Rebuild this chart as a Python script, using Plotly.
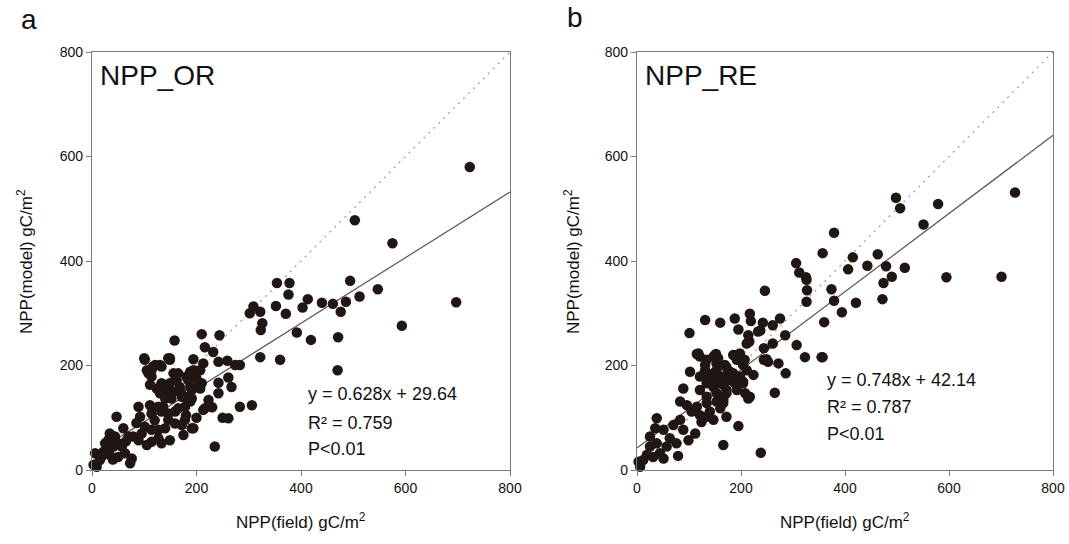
import plotly.graph_objects as go

# ---------------- data ----------------
a_x = [723, 503, 575, 378, 354, 494, 376, 413, 547, 512, 440, 461, 486, 403, 476, 371, 697, 392, 419, 471,
       593, 360, 470, 352, 309, 322, 302, 326, 323, 322, 210, 244, 158, 216, 232,
       194, 213, 242, 259, 274, 283, 149, 130, 117, 111,
       194, 207, 181, 165, 159, 149, 143, 133, 124, 111,
       261, 242, 267, 242, 223, 188, 191, 207, 283, 306, 216, 136, 111,
       100, 105, 121, 133, 146, 108, 114, 188,
       156, 162, 133, 143, 156, 168, 130, 140, 152, 172,
       184, 191, 203, 210, 178, 188, 213, 261,
       89, 92, 114, 127, 133, 146, 159, 165, 178,
       146, 159, 172, 178, 191, 140, 127, 114, 101,
       175, 149, 133, 127, 114, 105, 89, 79, 70,
       47, 34, 31, 44, 50, 57, 41, 25, 22, 34, 50, 63, 76, 73, 6, 15, 3, 9, 18,
       235, 194, 101, 114, 149, 60, 85, 95, 120, 65, 28, 40, 200, 230, 250, 180, 170, 200]
a_y = [580, 478, 434, 358, 358, 362, 336, 327, 346, 332, 320, 318, 322, 311, 303, 299, 321, 263, 249, 254,
       276, 211, 191, 314, 313, 303, 300, 281, 268, 216, 260, 258, 248, 235, 226,
       212, 204, 207, 209, 201, 201, 214, 201, 198, 191,
       191, 191, 179, 185, 172, 166, 159, 163, 156, 163,
       177, 167, 159, 147, 134, 159, 137, 156, 121, 124, 118, 121, 124,
       214, 191, 201, 198, 214, 185, 179, 188,
       185, 172, 166, 153, 150, 159, 147, 137, 137, 140,
       172, 153, 159, 166, 140, 131, 115, 99,
       121, 102, 108, 121, 112, 108, 112, 118, 121,
       96, 89, 86, 96, 80, 80, 77, 77, 83,
       67, 57, 51, 61, 54, 48, 57, 64, 64,
       102, 70, 57, 64, 51, 45, 45, 51, 35, 29, 25, 32, 22, 13, 32, 19, 10, 6, 25,
       45, 80, 211, 191, 211, 80, 90, 70, 95, 55, 40, 20, 100, 120, 100, 105, 150, 175]

b_x = [727, 498, 506, 579, 551, 379, 357, 415, 463, 406, 443, 479, 515, 490, 474, 374, 379, 421, 394, 472,
       595, 701, 360, 357,
       306, 312, 325, 327, 326, 246, 131, 160, 188, 217, 219, 242, 261, 275, 195, 237, 214, 216, 285, 261,
       244, 307, 323, 355, 244, 252, 272, 286, 198, 185, 192, 204, 211, 224,
       147, 153, 134, 121, 169, 176, 166, 147, 160, 134,
       217, 265, 166, 134,
       118, 150, 156, 191, 207,
       102, 131, 121, 147, 160, 179, 179, 198,
       134, 147, 166, 153, 172, 192, 204, 208, 121, 89,
       83, 96, 115, 134, 153, 166, 160, 140, 121, 105, 134, 147, 172, 124, 195,
       112, 89, 70, 83, 51, 63, 76, 99, 57, 38, 25, 44, 31, 19, 12, 3, 6, 51, 79,
       35, 25, 38, 166, 238,
       101, 233, 249, 211, 115, 152, 131, 153, 172, 185, 172, 188, 204, 166, 214, 326]
b_y = [531, 521, 501, 509, 470, 454, 415, 407, 413, 384, 391, 390, 387, 370, 358, 346, 324, 320, 302, 327,
       369, 370, 283, 216,
       396, 378, 369, 344, 322, 343, 287, 282, 290, 299, 285, 282, 277, 290, 269, 267, 258, 246, 258, 242,
       233, 239, 216, 216, 211, 207, 204, 185, 223, 220, 211, 201, 191, 182,
       217, 204, 211, 217, 201, 188, 179, 172, 166, 179,
       140, 148, 140, 140,
       223, 220, 214, 220, 211,
       188, 191, 179, 185, 175, 188, 172, 179,
       166, 159, 163, 147, 147, 153, 166, 147, 153, 156,
       131, 124, 121, 128, 131, 134, 118, 112, 105, 112, 102, 96, 102, 92, 84,
       70, 77, 86, 96, 77, 61, 51, 57, 45, 51, 45, 32, 25, 29, 19, 16, 6, 22, 27,
       80, 64, 99, 48, 33,
       262, 265, 212, 242, 222, 222, 201, 191, 197, 185, 153, 166, 169, 128, 137, 364]

a_fit = (0.628, 29.64)
b_fit = (0.748, 42.14)
ticks = [0, 200, 400, 600, 800]
ref_line = [0, 800]

# ---------------- figure ----------------
DOT = "#201614"
AX = "#7a7a7a"
FONT = "Arial, Liberation Sans, sans-serif"

fig = go.Figure()
panels = [("x", "y", a_x, a_y, a_fit), ("x2", "y2", b_x, b_y, b_fit)]
for xa, ya, xs, ys, (m, c) in panels:
    fig.add_trace(go.Scatter(x=ref_line, y=ref_line, mode="lines", xaxis=xa, yaxis=ya,
                             line=dict(color="#9a9a9a", width=1.2, dash="2px,5px"), showlegend=False))
    fig.add_trace(go.Scatter(x=ref_line, y=[m * v + c for v in ref_line], mode="lines",
                             xaxis=xa, yaxis=ya, line=dict(color="#555555", width=1.2),
                             showlegend=False))
    fig.add_trace(go.Scatter(x=xs, y=ys, mode="markers", xaxis=xa, yaxis=ya, cliponaxis=False,
                             marker=dict(color=DOT, size=10.5, line=dict(width=0)), showlegend=False))

W, H = 1069, 544
def px(x):
    return x / W
def py(y):
    return 1 - y / H

axis_common = dict(range=[0, 800], tickvals=ticks, showline=True, mirror=True, linecolor=AX,
                   linewidth=1.2, ticks="outside", ticklen=5, tickcolor=AX, showgrid=False,
                   zeroline=False, automargin=False,
                   tickfont=dict(family=FONT, size=14, color="#111"))
fig.update_layout(
    width=W, height=H, margin=dict(l=0, r=0, t=0, b=0, autoexpand=False),
    paper_bgcolor="white", plot_bgcolor="white",
    xaxis=dict(domain=[px(92), px(510)], anchor="y", **axis_common),
    yaxis=dict(domain=[py(470), py(52)], anchor="x", **axis_common),
    xaxis2=dict(domain=[px(637), px(1053)], anchor="y2", **axis_common),
    yaxis2=dict(domain=[py(470), py(52)], anchor="x2", **axis_common),
    font=dict(family=FONT, color="#111"),
)

ann = []
def txt(text, x, y, size, xref="paper", yref="paper", xanchor="left", yanchor="middle", angle=0):
    ann.append(dict(text=text, x=x, y=y, xref=xref, yref=yref, xanchor=xanchor, yanchor=yanchor,
                    showarrow=False, textangle=angle, font=dict(family=FONT, size=size, color="#111")))

# panel letters
txt("a", px(19), py(20), 28)
txt("b", px(565), py(18), 28)
# panel titles
txt("NPP_OR", px(98), py(75), 28)
txt("NPP_RE", px(643), py(75), 28)
# equations
for (xa, ya, eq, r2, ex, eys) in [
    ("x", "y", "y = 0.628x + 29.64", "R² = 0.759", 410, [145, 90, 40]),
    ("x2", "y2", "y = 0.748x + 42.14", "R² = 0.787", 361, [172, 121, 69]),
]:
    for t, yy in zip([eq, r2, "P<0.01"], eys):
        txt(t, ex, yy, 18, xref=xa, yref=ya)
# axis titles
for cx, ly in [(301, 25), (845, 572)]:
    txt("NPP(field) gC/m<sup>2</sup>", px(cx), py(521), 17, xanchor="center")
    txt("NPP(model) gC/m<sup>2</sup>", px(ly), py(262), 17, xanchor="center", angle=-90)

fig.update_layout(annotations=ann)
fig.write_html("out.html", config={"displayModeBar": False},
               post_script="document.body.style.margin='0';document.body.style.overflow='hidden';")
